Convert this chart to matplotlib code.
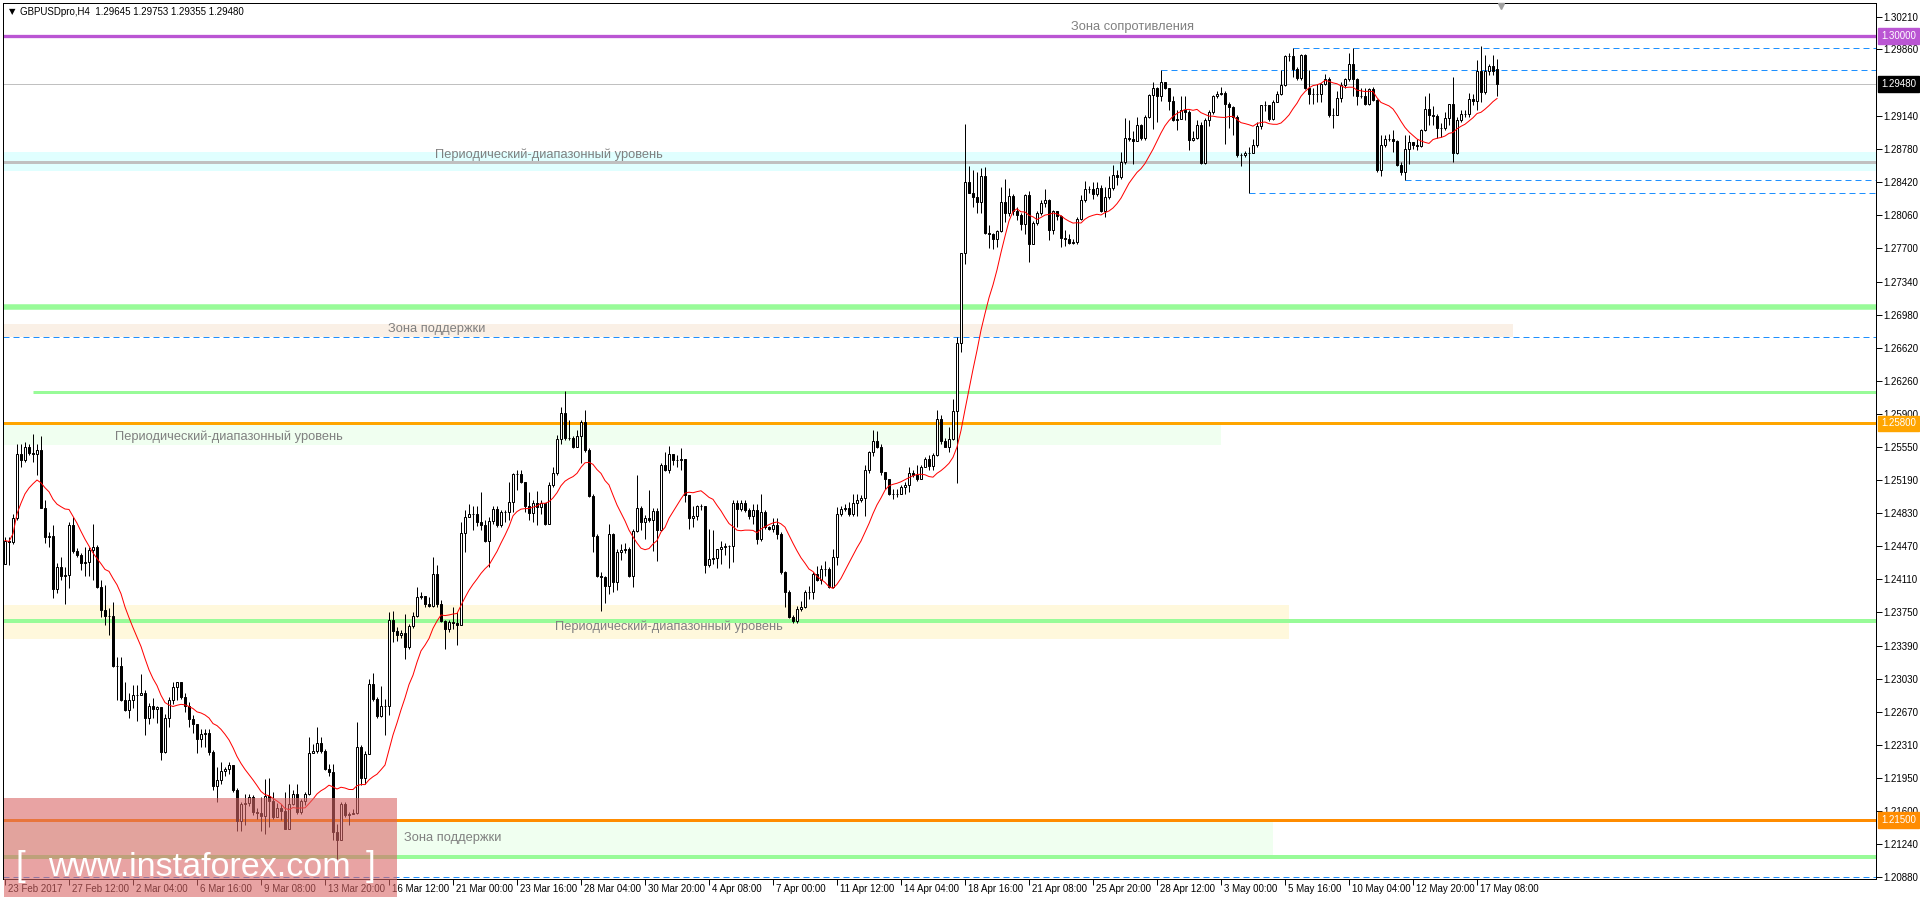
import matplotlib
matplotlib.use("Agg")
import matplotlib.pyplot as plt
from matplotlib.patches import Rectangle
from matplotlib.lines import Line2D
from matplotlib.transforms import blended_transform_factory
import numpy as np
import pandas as pd

plt.rcParams['font.family'] = ['Liberation Sans', 'DejaVu Sans']

# ---- data (GBPUSD H4) ----
first_open = 1.2428

close = [
    1.2453, 1.2451, 1.2477, 1.2547, 1.2540, 1.2554, 1.2548, 1.2547, 1.2551, 1.2488,
    1.2457, 1.2458, 1.2400, 1.2424, 1.2414, 1.2416, 1.2470, 1.2442, 1.2437, 1.2429,
    1.2430, 1.2443, 1.2446, 1.2403, 1.2378, 1.2371, 1.2371, 1.2317, 1.2317, 1.2280,
    1.2269, 1.2280, 1.2285, 1.2285, 1.2288, 1.2260, 1.2274, 1.2270, 1.2272, 1.2224,
    1.2260, 1.2280, 1.2294, 1.2299, 1.2283, 1.2273, 1.2259, 1.2254, 1.2238, 1.2243,
    1.2244, 1.2224, 1.2187, 1.2193, 1.2203, 1.2205, 1.2209, 1.2182, 1.2149, 1.2167,
    1.2168, 1.2175, 1.2158, 1.2157, 1.2154, 1.2176, 1.2170, 1.2153, 1.2163, 1.2160,
    1.2140, 1.2167, 1.2178, 1.2158, 1.2170, 1.2178, 1.2222, 1.2225, 1.2233, 1.2225,
    1.2205, 1.2202, 1.2137, 1.2128, 1.2167, 1.2155, 1.2156, 1.2157, 1.2229, 1.2195,
    1.2221, 1.2297, 1.2281, 1.2263, 1.2273, 1.2273, 1.2367, 1.2355, 1.2350, 1.2353,
    1.2338, 1.2360, 1.2371, 1.2392, 1.2393, 1.2384, 1.2382, 1.2417, 1.2384, 1.2366,
    1.2357, 1.2365, 1.2364, 1.2361, 1.2461, 1.2479, 1.2482, 1.2482, 1.2473, 1.2470,
    1.2452, 1.2474, 1.2487, 1.2470, 1.2484, 1.2484, 1.2495, 1.2525, 1.2525, 1.2516,
    1.2490, 1.2483, 1.2494, 1.2489, 1.2494, 1.2471, 1.2513, 1.2526, 1.2563, 1.2591,
    1.2564, 1.2564, 1.2555, 1.2566, 1.2582, 1.2551, 1.2501, 1.2458, 1.2415, 1.2413,
    1.2404, 1.2460, 1.2408, 1.2441, 1.2443, 1.2444, 1.2415, 1.2463, 1.2488, 1.2473,
    1.2478, 1.2475, 1.2485, 1.2464, 1.2535, 1.2530, 1.2547, 1.2540, 1.2540, 1.2542,
    1.2502, 1.2477, 1.2480, 1.2490, 1.2491, 1.2427, 1.2433, 1.2434, 1.2444, 1.2446,
    1.2447, 1.2447, 1.2494, 1.2487, 1.2494, 1.2486, 1.2480, 1.2486, 1.2455, 1.2484,
    1.2468, 1.2466, 1.2470, 1.2460, 1.2419, 1.2397, 1.2370, 1.2366, 1.2379, 1.2381,
    1.2397, 1.2397, 1.2417, 1.2410, 1.2422, 1.2422, 1.2403, 1.2435, 1.2482, 1.2487,
    1.2488, 1.2482, 1.2494, 1.2497, 1.2499, 1.2530, 1.2549, 1.2561, 1.2555, 1.2527,
    1.2520, 1.2504, 1.2503, 1.2503, 1.2511, 1.2513, 1.2526, 1.2524, 1.2520, 1.2533,
    1.2541, 1.2534, 1.2546, 1.2585, 1.2561, 1.2555, 1.2563, 1.2594, 1.2667, 1.2765,
    1.2842, 1.2830, 1.2826, 1.2820, 1.2849, 1.2787, 1.2786, 1.2780, 1.2789, 1.2820,
    1.2808, 1.2827, 1.2811, 1.2806, 1.2796, 1.2828, 1.2775, 1.2797, 1.2808, 1.2819,
    1.2822, 1.2790, 1.2810, 1.2805, 1.2781, 1.2780, 1.2776, 1.2777, 1.2802, 1.2823,
    1.2834, 1.2834, 1.2829, 1.2835, 1.2811, 1.2826, 1.2835, 1.2850, 1.2847, 1.2864,
    1.2890, 1.2889, 1.2886, 1.2904, 1.2890, 1.2913, 1.2936, 1.2944, 1.2935, 1.2950,
    1.2944, 1.2930, 1.2909, 1.2910, 1.2920, 1.2918, 1.2888, 1.2890, 1.2904, 1.2863,
    1.2909, 1.2918, 1.2935, 1.2938, 1.2939, 1.2927, 1.2923, 1.2913, 1.2871, 1.2871,
    1.2874, 1.2873, 1.2882, 1.2903, 1.2925, 1.2925, 1.2910, 1.2929, 1.2938, 1.2947,
    1.2979, 1.2979, 1.2965, 1.2955, 1.2980, 1.2944, 1.2938, 1.2938, 1.2937, 1.2948,
    1.2954, 1.2915, 1.2915, 1.2933, 1.2947, 1.2954, 1.2970, 1.2954, 1.2935, 1.2935,
    1.2927, 1.2943, 1.2931, 1.2855, 1.2882, 1.2889, 1.2889, 1.2886, 1.2860, 1.2853,
    1.2878, 1.2885, 1.2882, 1.2881, 1.2898, 1.2921, 1.2915, 1.2914, 1.2901, 1.2901,
    1.2911, 1.2927, 1.2873, 1.2909, 1.2916, 1.2916, 1.2932, 1.2930, 1.2962, 1.2940,
    1.2962, 1.2968, 1.2962, 1.2948,
]

high = [
    1.2457, 1.2457, 1.2482, 1.2558, 1.2558, 1.2560, 1.2558, 1.2569, 1.2558, 1.2566,
    1.2497, 1.2462, 1.2470, 1.2429, 1.2435, 1.2424, 1.2473, 1.2479, 1.2445, 1.2440,
    1.2446, 1.2446, 1.2471, 1.2448, 1.2410, 1.2405, 1.2380, 1.2386, 1.2327, 1.2327,
    1.2299, 1.2288, 1.2296, 1.2296, 1.2308, 1.2291, 1.2277, 1.2282, 1.2273, 1.2267,
    1.2265, 1.2283, 1.2300, 1.2300, 1.2300, 1.2288, 1.2278, 1.2264, 1.2254, 1.2248,
    1.2248, 1.2248, 1.2226, 1.2207, 1.2213, 1.2207, 1.2213, 1.2210, 1.2185, 1.2169,
    1.2178, 1.2178, 1.2177, 1.2163, 1.2175, 1.2194, 1.2195, 1.2180, 1.2168, 1.2167,
    1.2180, 1.2189, 1.2182, 1.2189, 1.2173, 1.2180, 1.2240, 1.2232, 1.2251, 1.2240,
    1.2227, 1.2211, 1.2211, 1.2146, 1.2169, 1.2169, 1.2159, 1.2162, 1.2256, 1.2231,
    1.2225, 1.2303, 1.2309, 1.2283, 1.2295, 1.2281, 1.2375, 1.2377, 1.2359, 1.2356,
    1.2373, 1.2363, 1.2376, 1.2403, 1.2397, 1.2392, 1.2392, 1.2435, 1.2426, 1.2388,
    1.2367, 1.2367, 1.2381, 1.2376, 1.2473, 1.2486, 1.2493, 1.2490, 1.2491, 1.2506,
    1.2475, 1.2479, 1.2490, 1.2490, 1.2486, 1.2486, 1.2517, 1.2526, 1.2530, 1.2529,
    1.2517, 1.2506, 1.2497, 1.2507, 1.2497, 1.2490, 1.2516, 1.2533, 1.2567, 1.2598,
    1.2615, 1.2584, 1.2566, 1.2573, 1.2584, 1.2595, 1.2553, 1.2504, 1.2460, 1.2419,
    1.2414, 1.2471, 1.2461, 1.2444, 1.2449, 1.2450, 1.2446, 1.2465, 1.2524, 1.2490,
    1.2481, 1.2508, 1.2488, 1.2488, 1.2537, 1.2549, 1.2556, 1.2546, 1.2546, 1.2553,
    1.2537, 1.2497, 1.2490, 1.2492, 1.2493, 1.2488, 1.2466, 1.2464, 1.2444, 1.2452,
    1.2450, 1.2448, 1.2497, 1.2497, 1.2497, 1.2497, 1.2488, 1.2493, 1.2493, 1.2504,
    1.2486, 1.2469, 1.2477, 1.2477, 1.2462, 1.2420, 1.2399, 1.2372, 1.2382, 1.2387,
    1.2399, 1.2404, 1.2419, 1.2425, 1.2426, 1.2431, 1.2424, 1.2444, 1.2489, 1.2490,
    1.2493, 1.2495, 1.2503, 1.2504, 1.2502, 1.2535, 1.2550, 1.2573, 1.2572, 1.2558,
    1.2527, 1.2520, 1.2509, 1.2509, 1.2513, 1.2516, 1.2533, 1.2529, 1.2535, 1.2535,
    1.2544, 1.2546, 1.2548, 1.2595, 1.2589, 1.2564, 1.2576, 1.2607, 1.2674, 1.2765,
    1.2905, 1.2859, 1.2855, 1.2853, 1.2857, 1.2858, 1.2795, 1.2787, 1.2790, 1.2837,
    1.2845, 1.2835, 1.2829, 1.2815, 1.2808, 1.2829, 1.2832, 1.2800, 1.2810, 1.2822,
    1.2834, 1.2824, 1.2812, 1.2811, 1.2806, 1.2790, 1.2786, 1.2780, 1.2804, 1.2828,
    1.2843, 1.2838, 1.2842, 1.2842, 1.2839, 1.2837, 1.2848, 1.2860, 1.2855, 1.2875,
    1.2911, 1.2909, 1.2897, 1.2913, 1.2905, 1.2915, 1.2937, 1.2951, 1.2945, 1.2963,
    1.2951, 1.2942, 1.2935, 1.2920, 1.2935, 1.2935, 1.2920, 1.2897, 1.2909, 1.2907,
    1.2911, 1.2920, 1.2936, 1.2941, 1.2945, 1.2941, 1.2929, 1.2924, 1.2915, 1.2874,
    1.2876, 1.2880, 1.2889, 1.2907, 1.2926, 1.2930, 1.2925, 1.2931, 1.2941, 1.2963,
    1.2980, 1.2982, 1.2987, 1.2967, 1.2981, 1.2981, 1.2963, 1.2944, 1.2948, 1.2949,
    1.2959, 1.2956, 1.2922, 1.2941, 1.2951, 1.2955, 1.2982, 1.2987, 1.2955, 1.2944,
    1.2944, 1.2944, 1.2945, 1.2932, 1.2893, 1.2893, 1.2894, 1.2898, 1.2888, 1.2864,
    1.2893, 1.2893, 1.2885, 1.2889, 1.2900, 1.2935, 1.2939, 1.2924, 1.2916, 1.2906,
    1.2918, 1.2927, 1.2956, 1.2912, 1.2920, 1.2920, 1.2939, 1.2937, 1.2974, 1.2990,
    1.2980, 1.2970, 1.2980, 1.2975,
]

low = [
    1.2428, 1.2426, 1.2449, 1.2475, 1.2533, 1.2538, 1.2546, 1.2538, 1.2524, 1.2488,
    1.2450, 1.2446, 1.2391, 1.2396, 1.2410, 1.2384, 1.2402, 1.2440, 1.2435, 1.2421,
    1.2414, 1.2414, 1.2410, 1.2401, 1.2370, 1.2361, 1.2350, 1.2316, 1.2280, 1.2279,
    1.2268, 1.2260, 1.2271, 1.2257, 1.2285, 1.2242, 1.2254, 1.2260, 1.2255, 1.2215,
    1.2222, 1.2251, 1.2276, 1.2280, 1.2281, 1.2267, 1.2251, 1.2244, 1.2223, 1.2229,
    1.2229, 1.2220, 1.2182, 1.2169, 1.2189, 1.2198, 1.2200, 1.2180, 1.2138, 1.2138,
    1.2144, 1.2165, 1.2155, 1.2151, 1.2138, 1.2135, 1.2142, 1.2151, 1.2155, 1.2150,
    1.2140, 1.2140, 1.2166, 1.2156, 1.2156, 1.2166, 1.2177, 1.2222, 1.2222, 1.2222,
    1.2204, 1.2198, 1.2128, 1.2108, 1.2128, 1.2153, 1.2144, 1.2156, 1.2156, 1.2188,
    1.2189, 1.2222, 1.2279, 1.2260, 1.2262, 1.2242, 1.2264, 1.2343, 1.2344, 1.2347,
    1.2324, 1.2335, 1.2358, 1.2370, 1.2390, 1.2381, 1.2381, 1.2381, 1.2381, 1.2365,
    1.2335, 1.2354, 1.2357, 1.2340, 1.2361, 1.2441, 1.2479, 1.2464, 1.2469, 1.2464,
    1.2451, 1.2424, 1.2471, 1.2468, 1.2468, 1.2473, 1.2475, 1.2484, 1.2508, 1.2515,
    1.2484, 1.2475, 1.2473, 1.2470, 1.2482, 1.2470, 1.2489, 1.2511, 1.2524, 1.2558,
    1.2562, 1.2562, 1.2553, 1.2555, 1.2537, 1.2549, 1.2500, 1.2441, 1.2413, 1.2377,
    1.2385, 1.2395, 1.2397, 1.2399, 1.2432, 1.2439, 1.2413, 1.2403, 1.2462, 1.2464,
    1.2455, 1.2473, 1.2442, 1.2431, 1.2484, 1.2528, 1.2526, 1.2535, 1.2533, 1.2529,
    1.2495, 1.2465, 1.2468, 1.2475, 1.2486, 1.2418, 1.2424, 1.2428, 1.2423, 1.2428,
    1.2437, 1.2423, 1.2430, 1.2468, 1.2485, 1.2484, 1.2476, 1.2471, 1.2449, 1.2452,
    1.2466, 1.2464, 1.2462, 1.2455, 1.2417, 1.2381, 1.2369, 1.2364, 1.2364, 1.2377,
    1.2380, 1.2390, 1.2390, 1.2409, 1.2406, 1.2415, 1.2402, 1.2402, 1.2426, 1.2480,
    1.2485, 1.2480, 1.2480, 1.2480, 1.2495, 1.2480, 1.2526, 1.2545, 1.2553, 1.2524,
    1.2509, 1.2502, 1.2498, 1.2500, 1.2504, 1.2504, 1.2506, 1.2522, 1.2518, 1.2526,
    1.2533, 1.2529, 1.2529, 1.2545, 1.2558, 1.2555, 1.2549, 1.2562, 1.2515, 1.2658,
    1.2753, 1.2830, 1.2815, 1.2808, 1.2808, 1.2786, 1.2770, 1.2769, 1.2772, 1.2788,
    1.2799, 1.2805, 1.2806, 1.2801, 1.2790, 1.2786, 1.2755, 1.2777, 1.2795, 1.2806,
    1.2815, 1.2779, 1.2786, 1.2801, 1.2771, 1.2773, 1.2775, 1.2775, 1.2775, 1.2801,
    1.2820, 1.2830, 1.2824, 1.2827, 1.2809, 1.2804, 1.2824, 1.2833, 1.2839, 1.2845,
    1.2862, 1.2886, 1.2862, 1.2886, 1.2888, 1.2888, 1.2911, 1.2900, 1.2907, 1.2930,
    1.2943, 1.2920, 1.2908, 1.2898, 1.2911, 1.2909, 1.2877, 1.2886, 1.2889, 1.2862,
    1.2862, 1.2903, 1.2916, 1.2933, 1.2936, 1.2883, 1.2901, 1.2893, 1.2869, 1.2859,
    1.2869, 1.2830, 1.2873, 1.2880, 1.2900, 1.2919, 1.2908, 1.2909, 1.2929, 1.2936,
    1.2946, 1.2973, 1.2956, 1.2953, 1.2953, 1.2943, 1.2927, 1.2927, 1.2929, 1.2929,
    1.2947, 1.2913, 1.2901, 1.2919, 1.2929, 1.2944, 1.2952, 1.2935, 1.2926, 1.2933,
    1.2925, 1.2925, 1.2930, 1.2853, 1.2848, 1.2880, 1.2886, 1.2875, 1.2859, 1.2850,
    1.2844, 1.2862, 1.2878, 1.2877, 1.2880, 1.2897, 1.2904, 1.2904, 1.2890, 1.2891,
    1.2898, 1.2904, 1.2864, 1.2872, 1.2907, 1.2912, 1.2913, 1.2925, 1.2920, 1.2929,
    1.2938, 1.2958, 1.2958, 1.29355,
]

time_labels = [
    "23 Feb 2017", "27 Feb 12:00", "2 Mar 04:00", "6 Mar 16:00", "9 Mar 08:00",
    "13 Mar 20:00", "16 Mar 12:00", "21 Mar 00:00", "23 Mar 16:00", "28 Mar 04:00",
    "30 Mar 20:00", "4 Apr 08:00", "7 Apr 00:00", "11 Apr 12:00", "14 Apr 04:00",
    "18 Apr 16:00", "21 Apr 08:00", "25 Apr 20:00", "28 Apr 12:00", "3 May 00:00",
    "5 May 16:00", "10 May 04:00", "12 May 20:00", "17 May 08:00",
]
bars_per_label = 16

price_ticks = [
    1.30210, 1.29860, 1.29140, 1.28780, 1.28420, 1.28060, 1.27700, 1.27340,
    1.26980, 1.26620, 1.26260, 1.25900, 1.25550, 1.25190, 1.24830, 1.24470,
    1.24110, 1.23750, 1.23390, 1.23030, 1.22670, 1.22310, 1.21950, 1.21600,
    1.21240, 1.20880,
]

# levels drawn on the chart
resistance_level = 1.30000
last_price = 1.29480
orange_levels = [1.25800, 1.21500]
green_levels = [1.2706, 1.2614, 1.2366, 1.2110]
grey_level = 1.2864
dashed_levels = [1.2987, 1.2963, 1.2844, 1.2830, 1.2674, 1.2088]
dashed_start = [322, 289, 350, 311, None, None]

# ---- layout ----
W, H = 1920, 902
fig = plt.figure(figsize=(W / 100, H / 100), dpi=100)
fig.patch.set_facecolor("white")
ax = fig.add_axes([3 / W, 23 / H, 1873 / W, 876 / H])

x_left = -0.5
x_right = x_left + 1873 / 4.0
y_bot, y_top = 1.20858, 1.30362
ax.set_xlim(x_left, x_right)
ax.set_ylim(y_bot, y_top)

px = 0.72  # one pixel in points

# zones
zones = [
    (1.2854, 1.2875, x_left, x_right, "#e0ffff"),
    (1.2674, 1.2688, x_left, 377, "#faf0e6"),
    (1.2557, 1.2580, x_left, 304, "#f0fff0"),
    (1.2346, 1.2383, x_left, 321, "#fff8dc"),
    (1.2110, 1.2150, x_left, 317, "#f0fff0"),
]
for lo, hi, x0, x1, col in zones:
    ax.fill_between([x0, x1], lo, hi, color=col, lw=0, zorder=0)

ax.hlines(resistance_level, x_left, x_right, color="#ba55d3", lw=3.3 * px, zorder=1)
ax.hlines(last_price, x_left, x_right, color="#c0c0c0", lw=1 * px, zorder=1)
ax.hlines(grey_level, x_left, x_right, color="#c0c0c0", lw=3 * px, zorder=1)
ax.hlines(orange_levels[0], x_left, x_right, color="#ffa500", lw=3 * px, zorder=1)
ax.hlines(orange_levels[1], x_left, x_right, color="#ff8c00", lw=3 * px, zorder=1)
for lev, w, x0 in zip(green_levels, [5.5, 3, 4, 4], [x_left, 7, x_left, x_left]):
    ax.hlines(lev, x0, x_right, color="#98fb98", lw=w * px, zorder=1)
for lev, st in zip(dashed_levels, dashed_start):
    x0 = x_left if st is None else st
    ax.hlines(lev, x0, x_right, color="#1e90ff", lw=1 * px,
              linestyles=(0, (6, 4)), zorder=1)

# candles
c = np.array(close)
o = np.concatenate([[first_open], c[:-1]])
o[-1] = 1.29645
h = np.maximum(np.array(high), np.maximum(o, c))
l = np.minimum(np.array(low), np.minimum(o, c))
x = np.arange(len(c))
ax.vlines(x, l, h, color="black", lw=1 * px, zorder=3)
up = c >= o
bottom = np.minimum(o, c)
height = np.abs(c - o)
ax.bar(x[up], height[up], bottom=bottom[up], width=0.55, facecolor="white",
       edgecolor="black", lw=1 * px, zorder=4)
ax.bar(x[~up], height[~up], bottom=bottom[~up], width=0.55, facecolor="black",
       edgecolor="black", lw=1 * px, zorder=4)

# moving average
ma = pd.Series(c).rolling(14, min_periods=1).mean()
ax.plot(x, ma, color="red", lw=1 * px, zorder=5)

# zone captions
grey = "#808080"
captions = [
    ("Зона сопротивления", 282, 1.3010, "center"),
    ("Периодический-диапазонный уровень", 107.5, 1.2872, "left"),
    ("Зона поддержки", 95.8, 1.2682, "left"),
    ("Периодический-диапазонный уровень", 27.5, 1.2566, "left"),
    ("Периодический-диапазонный уровень", 137.5, 1.2359, "left"),
    ("Зона поддержки", 99.8, 1.2130, "left"),
]
for txt, tx, ty, ha in captions:
    ax.text(tx, ty, txt, color=grey, fontsize=9.3, ha=ha, va="center", zorder=6)

# axes styling
for sp in ax.spines.values():
    sp.set_color("black")
    sp.set_linewidth(1 * px)
ax.yaxis.tick_right()
ax.set_yticks(price_ticks)
ax.set_yticklabels([f"{p:.5f}" for p in price_ticks])
ax.tick_params(axis="y", direction="out", length=4, width=0.7, pad=1.5,
               labelsize=7, colors="black")
tick_pos = [k * bars_per_label for k in range(len(time_labels))]
ax.set_xticks(tick_pos)
ax.set_xticklabels([])
ax.tick_params(axis="x", direction="out", length=4, width=0.7)
trans_xd = blended_transform_factory(ax.transData, ax.transAxes)
for pos, lab in zip(tick_pos, time_labels):
    ax.text(pos + 0.75, -9.5 / 876, lab, transform=trans_xd, ha="left",
            va="center", fontsize=7, clip_on=False)

# price boxes on the right scale
trans_ad = blended_transform_factory(ax.transAxes, ax.transData)
boxes = [
    (resistance_level, "#ba55d3"),
    (last_price, "black"),
    (orange_levels[0], "#ffa500"),
    (orange_levels[1], "#ff8c00"),
]
for p, col in boxes:
    ax.text(1.0 + 5 / 1873, p, f"{p:.5f}", transform=trans_ad, color="white",
            fontsize=7, ha="left", va="center", clip_on=False, zorder=7,
            bbox=dict(boxstyle="square,pad=0.3", fc=col, ec=col))

# header
fig.text(9 / W, 1 - 12 / H, "▼", fontsize=6, va="center", ha="left",
         family="DejaVu Sans")
fig.text(20 / W, 1 - 12 / H, "GBPUSDpro,H4  1.29645 1.29753 1.29355 1.29480",
         fontsize=7, va="center", ha="left")
fig.add_artist(Line2D([1501 / W], [1 - 6 / H], marker="v", color="#a0a0a0",
                      markersize=5, transform=fig.transFigure))

# watermark
fig.patches.append(Rectangle((4 / W, 5 / H), 393 / W, 99 / H,
                             transform=fig.transFigure, facecolor="#d96666",
                             alpha=0.6, lw=0, zorder=10))
wm_y = 1 - 876 / H
fig.text(16 / W, wm_y, "[", fontsize=25, color="white", va="baseline", zorder=11)
fig.text(48 / W, wm_y, "www.instaforex.com", fontsize=24.5, color="white",
         va="baseline", zorder=11)
fig.text(366 / W, wm_y, "]", fontsize=25, color="white", va="baseline", zorder=11)

fig.savefig("out.png", dpi=100)
